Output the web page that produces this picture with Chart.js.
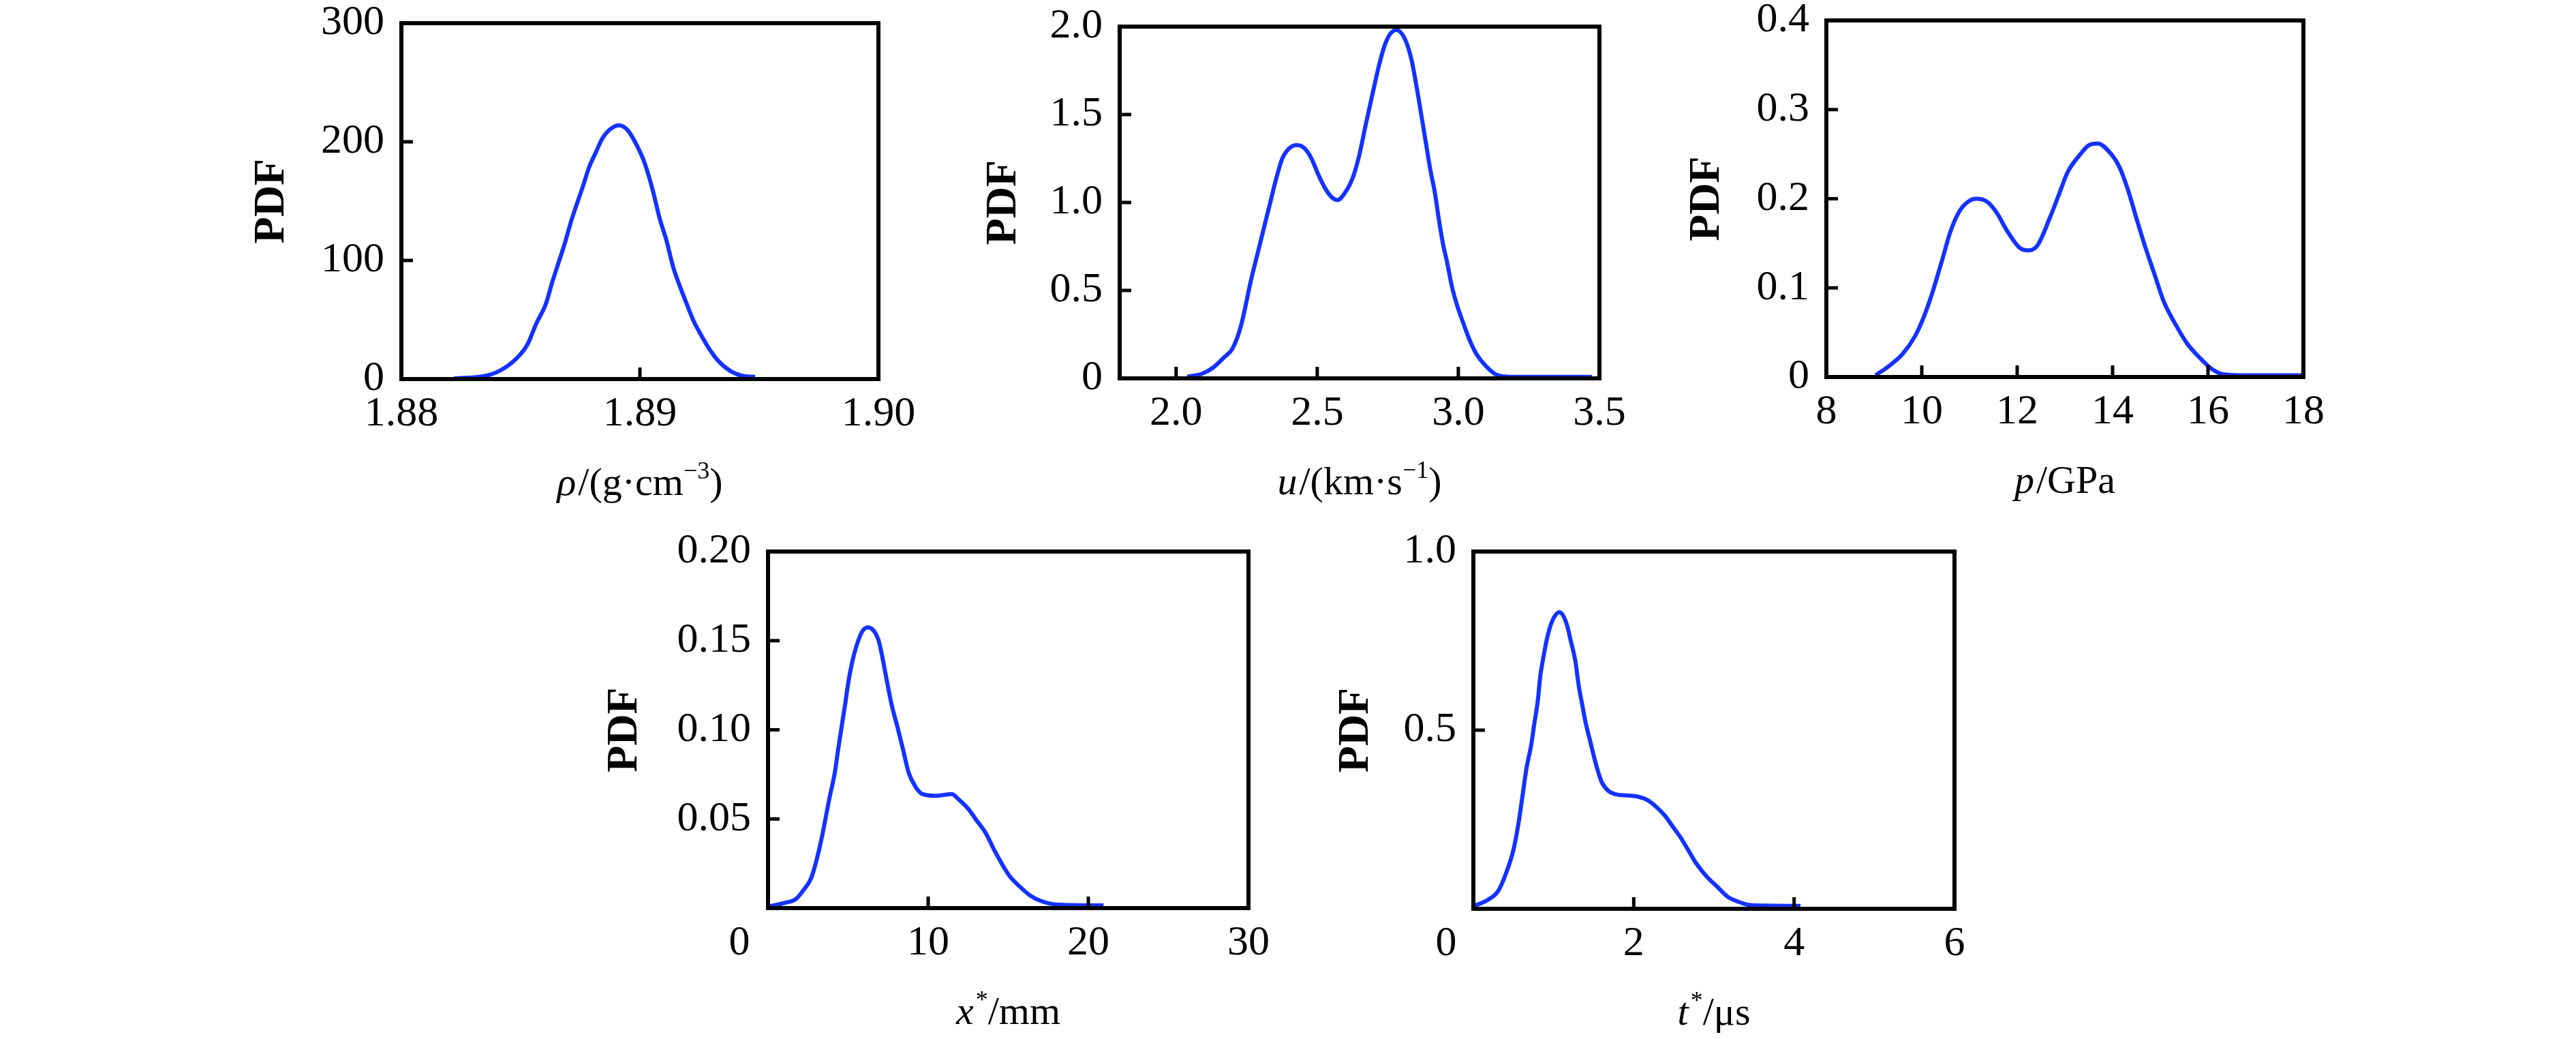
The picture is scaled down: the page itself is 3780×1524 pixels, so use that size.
<!DOCTYPE html>
<html><head><meta charset="utf-8">
<script src="https://cdn.jsdelivr.net/npm/chart.js@4.4.1/dist/chart.umd.min.js"></script>
<style>
html,body{margin:0;padding:0;background:#fff;width:3780px;height:1524px;overflow:hidden;position:relative}
canvas{position:absolute}
</style></head><body>
<canvas id="c1"></canvas><canvas id="c2"></canvas><canvas id="c3"></canvas><canvas id="c4"></canvas><canvas id="c5"></canvas>
<script>
// ---------- DATA ----------
// (a) density rho / (g·cm^-3)
const rhoX   = [1.8822,1.8836,1.8843,1.88495,1.88528,1.88566,1.88605,1.88633,1.88657,1.88686,1.88710,1.88738,1.88762,1.88786,1.88815,1.88843,1.88872,1.88910,1.88948,1.88987,1.89020,1.89054,1.89082,1.89111,1.89140,1.89168,1.89197,1.89225,1.89254,1.89292,1.89330,1.89378,1.89436,1.89483];
const rhoPDF = [0.5,3,9,20,29,47,63,82,97,115,132,149,163,178,191,203,210,214,210,197,182,159,136,117,94,78,63,49,38,25,15,7,2.5,1.9];
const rhoXTicks = [1.88,1.89,1.90];
const rhoXLabels = ['1.88','1.89','1.90'];
const rhoYTicks = [0,100,200,300];
const rhoYLabels = ['0','100','200','300'];
const rhoRange = [1.88,1.90,0,300];

// (b) particle velocity u / (km·s^-1)
const uX   = [2.040,2.090,2.130,2.170,2.200,2.230,2.266,2.290,2.310,2.334,2.354,2.376,2.400,2.428,2.456,2.480,2.504,2.528,2.552,2.572,2.596,2.624,2.648,2.672,2.697,2.717,2.737,2.757,2.781,2.809,2.833,2.853,2.869,2.885,2.901,2.917,2.929,2.945,2.961,2.977,2.997,3.017,3.041,3.065,3.097,3.137,3.185,3.474];
const uPDF = [0.01,0.025,0.06,0.12,0.17,0.30,0.563,0.718,0.848,1.003,1.132,1.249,1.307,1.327,1.307,1.249,1.158,1.081,1.029,1.014,1.049,1.132,1.262,1.443,1.625,1.767,1.884,1.955,1.981,1.935,1.819,1.650,1.495,1.340,1.184,1.055,0.925,0.770,0.654,0.524,0.408,0.317,0.214,0.136,0.071,0.019,0.009,0.009];
const uXTicks = [2.0,2.5,3.0,3.5];
const uXLabels = ['2.0','2.5','3.0','3.5'];
const uYTicks = [0,0.5,1.0,1.5,2.0];
const uYLabels = ['0','0.5','1.0','1.5','2.0'];
const uRange = [1.8,3.5,0,2.0];

// (c) pressure p / GPa
const pX   = [9.03,9.28,9.60,9.85,10.04,10.23,10.42,10.60,10.79,10.98,11.14,11.36,11.55,11.80,12.05,12.24,12.43,12.68,12.87,13.06,13.31,13.50,13.69,13.94,14.13,14.31,14.50,14.69,14.88,15.07,15.32,15.57,15.82,16.08,16.33,16.70,17.96];
const pPDF = [0.002,0.011,0.026,0.045,0.067,0.096,0.130,0.163,0.186,0.197,0.200,0.197,0.186,0.163,0.145,0.142,0.148,0.178,0.204,0.230,0.249,0.260,0.262,0.252,0.237,0.212,0.178,0.145,0.115,0.085,0.059,0.037,0.022,0.009,0.003,0.002,0.002];
const pXTicks = [8,10,12,14,16,18];
const pXLabels = ['8','10','12','14','16','18'];
const pYTicks = [0,0.1,0.2,0.3,0.4];
const pYLabels = ['0','0.1','0.2','0.3','0.4'];
const pRange = [8,18,0,0.4];

// (d) x* / mm
const xsX   = [0.10,1.07,1.73,2.21,2.70,3.03,3.39,3.82,4.17,4.38,4.60,4.81,5.02,5.23,5.52,5.87,6.23,6.65,6.94,7.22,7.43,7.72,8.07,8.43,8.78,9.21,9.63,10.48,11.48,11.90,12.47,13.04,13.60,14.10,14.59,15.08,15.73,16.38,17.04,18.01,20.95];
const xsPDF = [0.001,0.003,0.005,0.010,0.017,0.027,0.041,0.061,0.076,0.089,0.102,0.114,0.127,0.137,0.147,0.155,0.1575,0.155,0.149,0.137,0.127,0.114,0.102,0.089,0.076,0.068,0.064,0.063,0.064,0.061,0.056,0.049,0.042,0.033,0.025,0.018,0.012,0.007,0.004,0.002,0.0015];
const xsXTicks = [0,10,20,30];
const xsXLabels = ['0','10','20','30'];
const xsYTicks = [0.05,0.10,0.15,0.20];
const xsYLabels = ['0.05','0.10','0.15','0.20'];
const xsRange = [0,30,0,0.20];

// (e) t* / us
const tsX   = [0.01,0.18,0.31,0.40,0.50,0.564,0.606,0.663,0.720,0.762,0.805,0.833,0.875,0.918,0.975,1.073,1.158,1.215,1.272,1.315,1.357,1.400,1.456,1.527,1.598,1.683,1.768,1.938,2.051,2.164,2.278,2.391,2.49,2.58,2.68,2.78,2.91,3.04,3.17,3.30,3.43,3.62,4.08];
const tsPDF = [0.008,0.025,0.050,0.095,0.165,0.241,0.305,0.394,0.457,0.521,0.585,0.648,0.706,0.756,0.801,0.830,0.801,0.750,0.693,0.623,0.572,0.521,0.470,0.406,0.356,0.330,0.321,0.317,0.314,0.305,0.286,0.260,0.229,0.201,0.164,0.127,0.090,0.062,0.034,0.020,0.011,0.009,0.008];
const tsXTicks = [0,2,4,6];
const tsXLabels = ['0','2','4','6'];
const tsYTicks = [0.5,1.0];
const tsYLabels = ['0.5','1.0'];
const tsRange = [0,6,0,1.0];

// x-axis titles (segments: text, style)
const rhoTitle = [['ρ','i'],['/(g·cm',''],['−3','s'],[')','']];
const uTitle   = [['u','i'],['/(km·s',''],['−1','s'],[')','']];
const pTitle   = [['p','i'],['/GPa','']];
const xsTitle  = [['x','i'],['*','s'],['/mm','']];
const tsTitle  = [['t','i'],['*','s'],['/μs','']];
const yTitle = 'PDF';

// ---------- LAYOUT (plot frame: left, top, right, bottom; PDF title padding; shift of corner "0" label) ----------
const frames = {
  c1:[589,34,1289,556,32,0],
  c2:[1643,39,2347,555,52,0],
  c3:[2680,30,3380,553,47,0],
  c4:[1127,809,1832,1332,12,42],
  c5:[2162,809,2868,1333,50,40]
};
const YW = 260, PT = 80, PR = 90, XH = 230;
const XPAD = 15, TICKFS = 62;
const FONT = '"Liberation Serif","Times New Roman",serif';
const LINE = 'rgb(20,50,255)';

const framePlugin = {
  id: 'frame',
  afterDatasetsDraw(chart, args, opts) {
    const {ctx, chartArea: a, scales} = chart;
    const x = scales.x, y = scales.y;
    ctx.save();
    ctx.strokeStyle = '#000';
    ctx.lineWidth = 5;
    ctx.beginPath();
    const eps = 1e-9;
    x.ticks.forEach(t => {
      if (t.value > x.min + eps && t.value < x.max - eps) {
        const px = x.getPixelForValue(t.value);
        ctx.moveTo(px, a.bottom); ctx.lineTo(px, a.bottom - 17);
      }
    });
    y.ticks.forEach(t => {
      if (t.value > y.min + eps && t.value < y.max - eps) {
        const py = y.getPixelForValue(t.value);
        ctx.moveTo(a.left, py); ctx.lineTo(a.left + 17, py);
      }
    });
    ctx.stroke();
    ctx.lineWidth = 6;
    ctx.strokeRect(a.left, a.top, a.right - a.left, a.bottom - a.top);
    ctx.fillStyle = '#000';
    // corner "0" label shifted left of the origin
    if (opts.shift) {
      ctx.font = `${TICKFS}px ${FONT}`;
      ctx.textAlign = 'center';
      ctx.textBaseline = 'middle';
      ctx.fillText(opts.firstLabel, x.getPixelForValue(x.ticks[0].value) - opts.shift, a.bottom + XPAD + TICKFS * 1.2 / 2);
    }
    // x-axis title with mixed styles
    const segs = opts.segments || [];
    const fs = 58, ss = 36;
    const fontFor = s => s === 'i' ? `italic ${fs}px ${FONT}` : (s === 's' ? `${ss}px ${FONT}` : `${fs}px ${FONT}`);
    let total = 0;
    segs.forEach(([t, s]) => { ctx.font = fontFor(s); total += ctx.measureText(t).width + (s === 'i' ? 3 : 0); });
    let cx = (a.left + a.right) / 2 - total / 2;
    const base = a.bottom + 170;
    ctx.textBaseline = 'alphabetic';
    ctx.textAlign = 'left';
    segs.forEach(([t, s]) => {
      ctx.font = fontFor(s);
      ctx.fillText(t, cx, s === 's' ? base - 24 : base);
      cx += ctx.measureText(t).width + (s === 'i' ? 3 : 0);
    });
    ctx.restore();
  }
};

function makeChart(id, xs, ys, xT, xL, yT, yL, range, title) {
  const f = frames[id];
  const cv = document.getElementById(id);
  const w = (f[2] - f[0]) + YW + PR, h = (f[3] - f[1]) + PT + XH;
  cv.width = w; cv.height = h;
  cv.style.left = (f[0] - YW) + 'px'; cv.style.top = (f[1] - PT) + 'px';
  cv.style.width = w + 'px'; cv.style.height = h + 'px';
  const pts = xs.map((v, i) => ({x: v, y: ys[i]}));
  const shift = f[5];
  return new Chart(cv, {
    type: 'line',
    data: { datasets: [{ data: pts, borderColor: LINE, borderWidth: 6, pointRadius: 0, fill: false, cubicInterpolationMode: 'monotone' }] },
    options: {
      responsive: false, animation: false, devicePixelRatio: 1, events: [],
      layout: { padding: { left: 0, top: PT, right: PR, bottom: 0 } },
      plugins: { legend: { display: false }, tooltip: { enabled: false },
                 frame: { segments: title, shift: shift, firstLabel: xL[0] } },
      scales: {
        x: {
          type: 'linear', min: range[0], max: range[1],
          grid: { display: false, drawTicks: false }, border: { display: false },
          afterBuildTicks: s => { s.ticks = xT.map(v => ({value: v})); },
          afterFit: s => { s.height = XH; },
          ticks: { autoSkip: false, maxRotation: 0, padding: XPAD, color: '#000',
                   font: { family: FONT, size: TICKFS },
                   callback: (v, i) => (shift && i === 0) ? '' : xL[i] }
        },
        y: {
          type: 'linear', min: range[2], max: range[3],
          grid: { display: false, drawTicks: false }, border: { display: false },
          afterBuildTicks: s => { s.ticks = yT.map(v => ({value: v})); },
          afterFit: s => { s.width = YW; },
          ticks: { autoSkip: false, padding: 25, color: '#000',
                   font: { family: FONT, size: TICKFS }, callback: (v, i) => yL[i] },
          title: { display: true, text: yTitle, color: '#000', padding: { top: f[4], bottom: 0 },
                   font: { family: FONT, size: 64, weight: 'bold' } }
        }
      }
    },
    plugins: [framePlugin]
  });
}

makeChart('c1', rhoX, rhoPDF, rhoXTicks, rhoXLabels, rhoYTicks, rhoYLabels, rhoRange, rhoTitle);
makeChart('c2', uX, uPDF, uXTicks, uXLabels, uYTicks, uYLabels, uRange, uTitle);
makeChart('c3', pX, pPDF, pXTicks, pXLabels, pYTicks, pYLabels, pRange, pTitle);
makeChart('c4', xsX, xsPDF, xsXTicks, xsXLabels, xsYTicks, xsYLabels, xsRange, xsTitle);
makeChart('c5', tsX, tsPDF, tsXTicks, tsXLabels, tsYTicks, tsYLabels, tsRange, tsTitle);
</script>
</body></html>
